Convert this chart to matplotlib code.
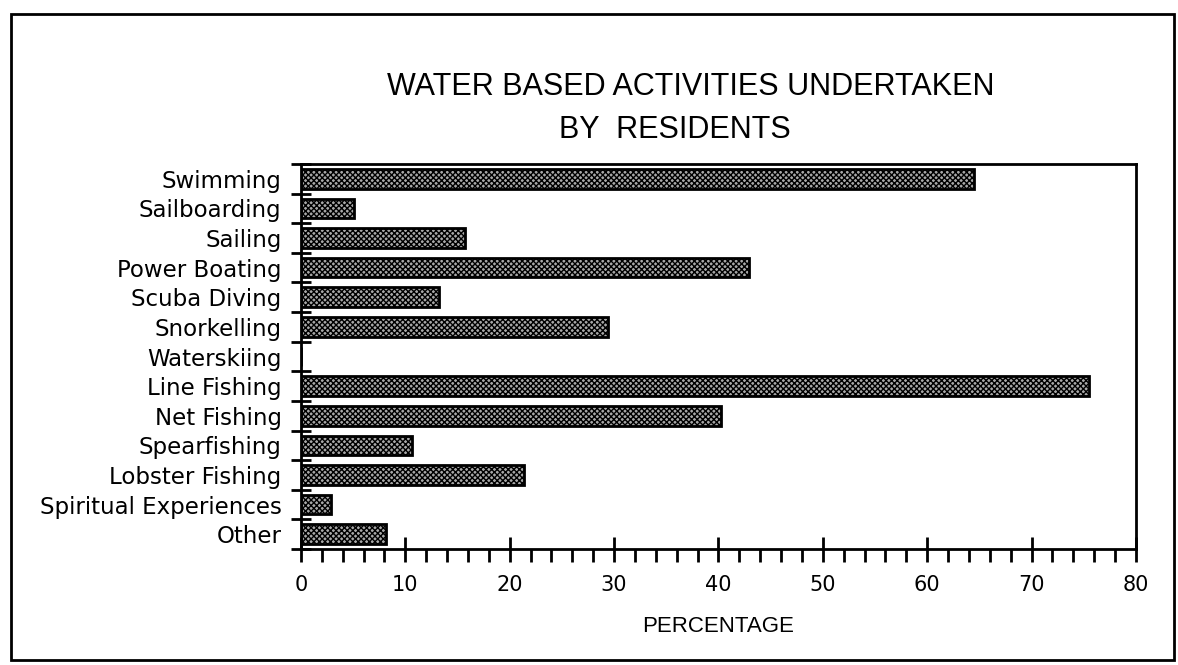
import matplotlib
matplotlib.use('Agg')
import numpy as np
import matplotlib.pyplot as plt
from matplotlib.patches import Rectangle
from matplotlib.ticker import MultipleLocator, FixedLocator

activities = ['Swimming', 'Sailboarding', 'Sailing', 'Power Boating', 'Scuba Diving',
              'Snorkelling', 'Waterskiing', 'Line Fishing', 'Net Fishing', 'Spearfishing',
              'Lobster Fishing', 'Spiritual Experiences', 'Other']
percent = [64.5, 5.1, 15.7, 42.9, 13.2, 29.4, 0.0, 75.5, 40.2, 10.6, 21.4, 2.9, 8.1]
xticks = [0, 10, 20, 30, 40, 50, 60, 70, 80]

plt.rcParams['hatch.linewidth'] = 1.0
narrow = ['Liberation Sans Narrow', 'Liberation Sans', 'DejaVu Sans']

fig = plt.figure(figsize=(11.78, 6.65), dpi=100)
ax = fig.add_axes([0.2555, 0.1744, 0.7088, 0.579])

y = np.arange(len(activities))
ax.barh(y, percent, height=0.66, color='#a8a8a8', edgecolor='black',
        linewidth=2, hatch='xxxxxx', zorder=2)

ax.set_xlim(0, 80)
ax.set_ylim(len(activities) - 0.5, -0.5)
ax.set_yticks(y)
ax.set_yticklabels(activities, fontsize=16.5, family='DejaVu Sans')
ax.yaxis.set_minor_locator(FixedLocator(np.arange(-0.5, len(activities), 1.0)))
ax.tick_params(axis='y', which='major', length=0, pad=14)
ax.tick_params(axis='y', which='minor', direction='inout', length=14, width=2)

ax.set_xticks(xticks)
ax.set_xticklabels([str(v) for v in xticks], fontsize=15, family='DejaVu Sans')
ax.xaxis.set_minor_locator(MultipleLocator(2))
ax.tick_params(axis='x', which='major', direction='inout', length=18, width=2, pad=10)
ax.tick_params(axis='x', which='minor', direction='out', length=9, width=2)
ax.set_xlabel('PERCENTAGE', fontsize=16, family=narrow, labelpad=15)

for s in ax.spines.values():
    s.set_linewidth(2)

fig.text(0.586, 0.869, 'WATER BASED ACTIVITIES UNDERTAKEN', ha='center', va='center',
         fontsize=22, family=narrow)
fig.text(0.573, 0.804, 'BY  RESIDENTS', ha='center', va='center',
         fontsize=22, family=narrow)

# outer frame of the page
fig.patches.append(Rectangle((0.009, 0.007), 0.988, 0.972, transform=fig.transFigure,
                             fill=False, edgecolor='black', linewidth=2))

fig.savefig('out.png', dpi=100)
